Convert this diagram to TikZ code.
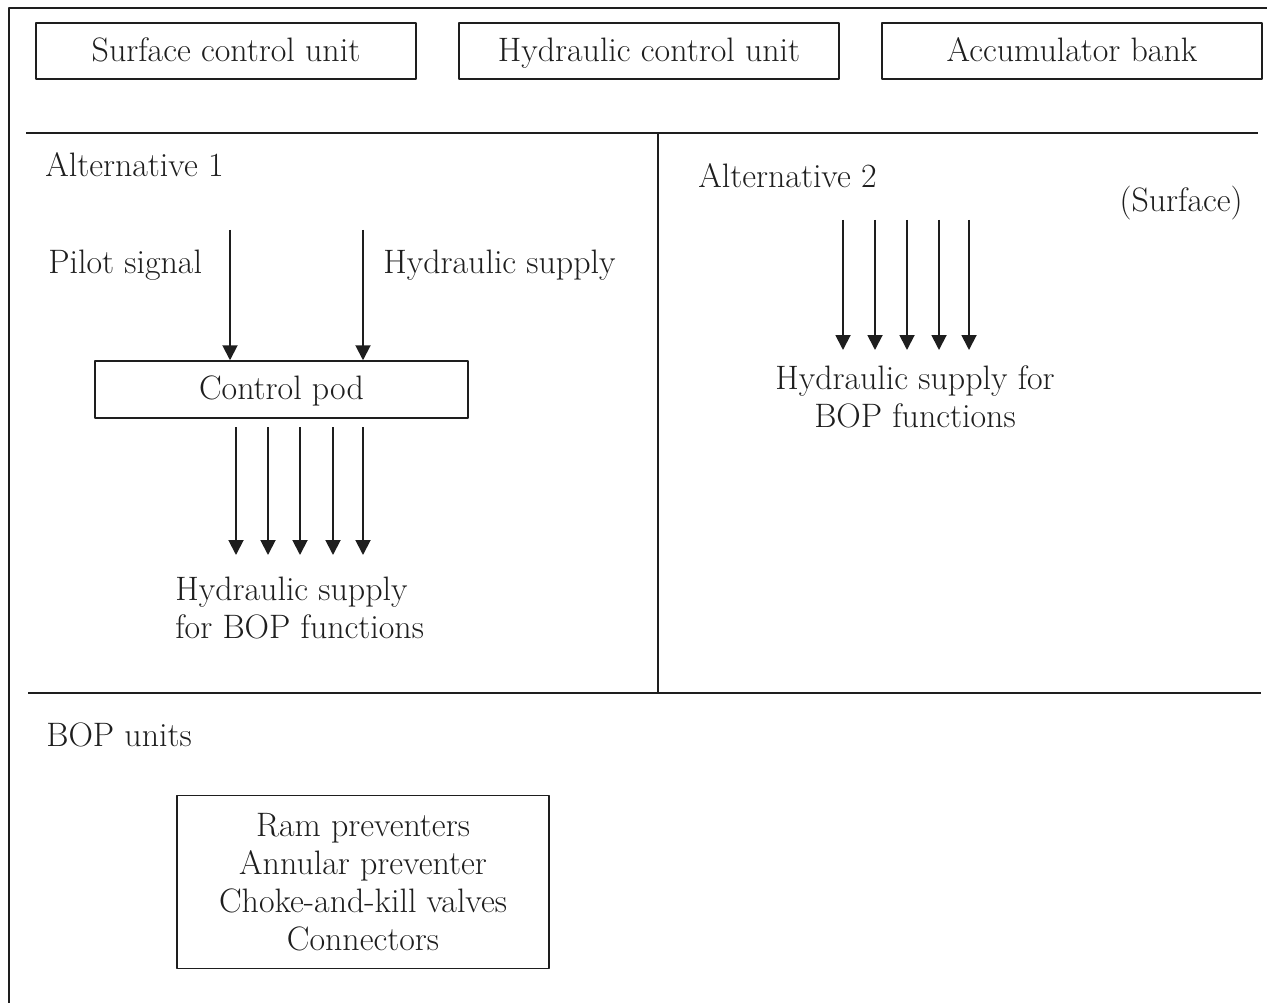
\documentclass[tikz,border=0pt]{standalone}
\usepackage{tikz}
\usetikzlibrary{arrows.meta}
\definecolor{ink}{HTML}{1E1E1E}
\tikzset{
  every picture/.style={line join=round, >=Stealth},
  txt/.style={font=\fontsize{19.3}{21.6}\selectfont, text=ink, inner sep=0pt},
  unitbox/.style={draw=ink, line width=0.85pt, txt, text height=0.5cm, text depth=0.08cm, minimum width=7.6cm, minimum height=1.12cm},
  rule/.style={draw=ink, line width=1.1pt},
  flow/.style={draw=ink, line width=1.1pt, -{Triangle[width=0.3cm,length=0.3cm]}},
}
\begin{document}
\begin{tikzpicture}[x=0.02cm,y=-0.02cm]
\useasboundingbox (0,0) rectangle (1267,1003);
% frame (cut at right and bottom)
\draw[draw=ink, line width=0.85pt] (9,1003)--(9,8)--(1267,8);
% surface units
\node[unitbox] (scu) at (226,51) {Surface control unit};
\node[unitbox] (hcu) at (649,51) {Hydraulic control unit};
\node[unitbox] (acc) at (1072,51) {Accumulator bank};
% panels
\draw[rule] (26,133)--(1258,133);
\draw[rule] (658,133)--(658,693);
\draw[rule, line width=1.6pt] (28,693)--(1261,693);
\node[txt, anchor=west] (alt1) at (45,165) {Alternative 1};
\node[txt, anchor=west] (alt2) at (698,176) {Alternative 2};
\node[txt, anchor=east] (surf) at (1243,203) {(Surface)};
% alternative 1
\node[txt, anchor=west] (pilot) at (48,265) {Pilot signal};
\node[txt, anchor=west] (hsup) at (383,265) {Hydraulic supply};
\node[unitbox, minimum width=7.46cm, minimum height=1.14cm] (pod) at (281.5,389.5) {Control pod};
\coordinate (p0) at (230,230);
\coordinate (h0) at (363,230);
\draw[flow] (p0) -- (p0 |- pod.north);
\draw[flow] (h0) -- (h0 |- pod.north);
\foreach \x [count=\i] in {236,268,300,333,363}{
  \coordinate (s\i) at (\x,427);
  \coordinate (e\i) at (\x,555);
  \draw[flow] (s\i) -- (e\i);
}
\node[txt, anchor=north west, align=left] (out1) at (175,577) {Hydraulic supply\\for BOP functions};
% alternative 2
\foreach \x [count=\i] in {843,875,907,939,969}{
  \coordinate (t\i) at (\x,220);
  \coordinate (f\i) at (\x,350);
  \draw[flow] (t\i) -- (f\i);
}
\node[txt, anchor=north, align=center] (out2) at (915,365) {Hydraulic supply for\\BOP functions};
% BOP units
\node[txt, anchor=west] (bop) at (46,735) {BOP units};
\node[draw=ink, line width=0.85pt, txt, align=center, minimum width=7.44cm, minimum height=3.46cm] (stack) at (363,882)
  {Ram preventers\\Annular preventer\\Choke-and-kill valves\\Connectors};
\end{tikzpicture}
\end{document}
